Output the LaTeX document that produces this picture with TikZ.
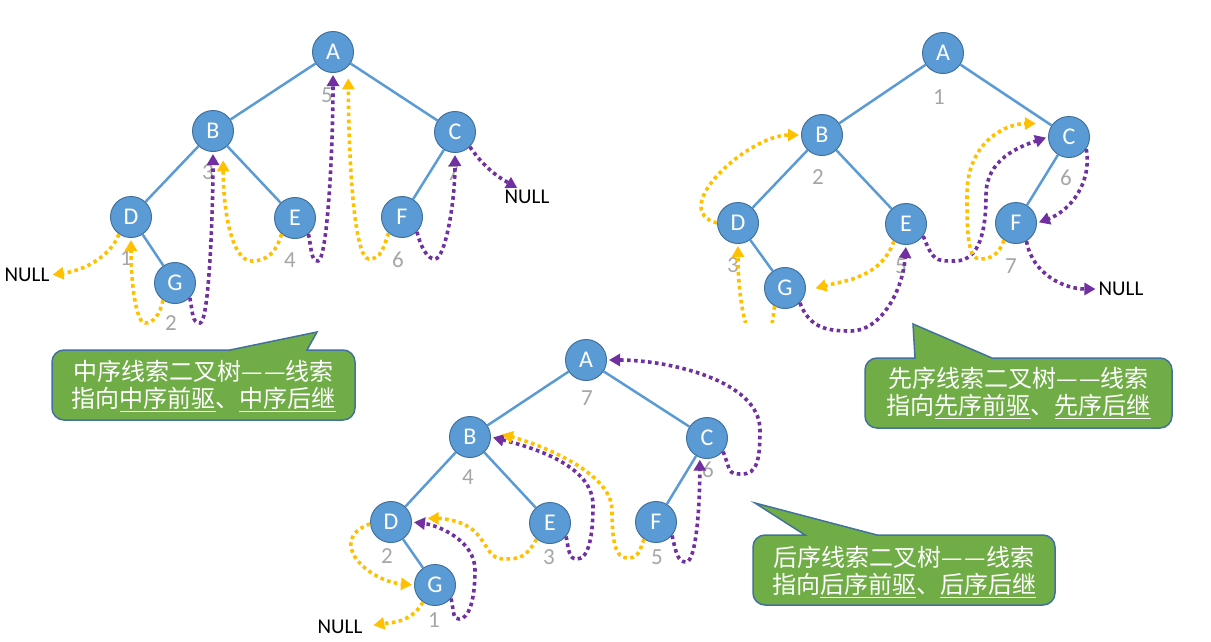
\documentclass[tikz,border=0pt]{standalone}
\usepackage{fontspec}
\setmainfont{Carlito}
\newfontfamily\cjk{Noto Sans CJK SC}
\usetikzlibrary{arrows.meta,positioning}
\definecolor{nodeblue}{RGB}{91,155,213}
\definecolor{nodeedge}{RGB}{65,113,156}
\definecolor{threadyellow}{RGB}{255,192,0}
\definecolor{threadpurple}{RGB}{112,48,160}
\definecolor{notegreen}{RGB}{112,173,71}
\definecolor{numgray}{RGB}{166,166,166}
\newcommand\undl[1]{\setbox0\hbox{#1}\rlap{\rule[-5pt]{\wd0}{1.6pt}}\box0}
\tikzstyle{vert}=[circle,draw=nodeedge,line width=1pt,fill=nodeblue,inner sep=0,minimum size=41pt,text=white,font=\fontsize{24}{24}\selectfont]
\tikzstyle{edge}=[draw=nodeblue,line width=2.5pt]
\tikzstyle{ord}=[text=numgray,font=\fontsize{23}{23}\selectfont]
\tikzstyle{nul}=[inner sep=1pt,font=\fontsize{21}{21}\selectfont]
\tikzstyle{thread}=[>={Triangle[length=11pt,width=12pt]},->,shorten >=2pt,line width=3.6pt,dash pattern=on 3.6pt off 3.4pt]
\tikzstyle{pre}=[thread,draw=threadyellow]
\tikzstyle{suc}=[thread,draw=threadpurple]
\tikzstyle{note}=[fill=notegreen,draw=nodeedge,line width=1.5pt]
\tikzstyle{notetext}=[text=white,align=center,font=\cjk\fontsize{24}{27}\selectfont]

\begin{document}
\begin{tikzpicture}[x=1pt,y=1pt]
    \useasboundingbox (0,0) rectangle (1211,-641);

    % in-order tree
    \node [vert] (a1) at (333,-52) {A};
    \node [vert] (b1) at (213,-131) {B};
    \node [vert] (c1) at (455,-132) {C};
    \node [vert] (d1) at (131,-217) {D};
    \node [vert] (e1) at (295,-218) {E};
    \node [vert] (f1) at (402,-217) {F};
    \node [vert] (g1) at (175,-283) {G};

    % pre-order tree
    \node [vert] (a2) at (943,-53) {A};
    \node [vert] (b2) at (822,-135) {B};
    \node [vert] (c2) at (1069,-137) {C};
    \node [vert] (d2) at (738,-223) {D};
    \node [vert] (e2) at (906,-224) {E};
    \node [vert] (f2) at (1016,-223) {F};
    \node [vert] (g2) at (785,-288) {G};

    % post-order tree
    \node [vert] (a3) at (586,-360) {A};
    \node [vert] (b3) at (470,-437) {B};
    \node [vert] (c3) at (707,-438) {C};
    \node [vert] (d3) at (391,-522) {D};
    \node [vert] (e3) at (550,-523) {E};
    \node [vert] (f3) at (656,-522) {F};
    \node [vert] (g3) at (435,-585) {G};

    % tree edges
    \foreach \u/\v in {a/b,a/c,b/d,b/e,c/f,d/g} {
      \foreach \t in {1,2,3} {
        \draw [edge] (\u\t) -- (\v\t);
      }
    }

    % visiting order
    \node [ord] (oa1) at (327,-95) {5};
    \node [ord] (ob1) at (208,-172) {3};
    \node [ord] (oc1) at (453,-173) {7};
    \node [ord] (od1) at (126,-258) {1};
    \node [ord] (oe1) at (290,-260) {4};
    \node [ord] (of1) at (398,-260) {6};
    \node [ord] (og1) at (171,-323) {2};

    \node [ord] (oa2) at (939,-97) {1};
    \node [ord] (ob2) at (818,-177) {2};
    \node [ord] (oc2) at (1066,-178) {6};
    \node [ord] (od2) at (733,-265) {3};
    \node [ord] (oe2) at (901,-266) {5};
    \node [ord] (of2) at (1011,-266) {7};

    \node [ord] (oa3) at (587,-398) {7};
    \node [ord] (ob3) at (468,-477) {4};
    \node [ord] (oc3) at (708,-470) {6};
    \node [ord] (od3) at (387,-556) {2};
    \node [ord] (oe3) at (549,-557) {3};
    \node [ord] (of3) at (657,-557) {5};
    \node [ord] (og3) at (434,-620) {1};

    \node [nul] (null1) at (27,-275) {NULL};
    \node [nul] (null2) at (527,-197) {NULL};
    \node [nul] (null3) at (1121,-289) {NULL};
    \node [nul] (null4) at (340,-627) {NULL};

    % in-order threads
    \draw [pre] (d1.235) .. controls +(-10,-25) and +(30,4) .. (null1.east);
    \draw [pre] (g1.235) .. controls +(-3,-15) and +(8,0) .. (145,-323) .. controls +(-9,0) and +(0,-45) .. (d1.south);
    \draw [suc] (g1.-45) .. controls +(3,-15) and +(-8,0) .. (200,-323) .. controls +(9,0) and +(0,-60) .. (b1.south);
    \draw [pre,shorten >=11pt] (e1.230) .. controls +(-5,-18) and +(15,0) .. (252,-261) .. controls +(-22,0) and +(0,-55) .. (b1.-61);
    \draw [suc] (e1.-50) .. controls +(3,-15) and +(-7,0) .. (318,-261) .. controls +(9,0) and +(0,-80) .. (a1.south);
    \draw [pre,shorten >=12pt] (f1.230) .. controls +(-5,-15) and +(12,0) .. (369,-259) .. controls +(-16,0) and +(0,-80) .. (a1.-43);
    \draw [suc] (f1.-45) .. controls +(4,-15) and +(-8,0) .. (435,-259) .. controls +(10,0) and +(0,-50) .. (c1.south);
    \draw [suc] (c1.-45) to[out=-55,in=150] (null2.135);

    % pre-order threads
    \draw [pre] (d2.west) to[out=165,in=180,looseness=1.1] (b2.west);
    \begin{scope}
      \clip (680,-200) rectangle (800,-322);
      \draw [pre] (g2.240) .. controls +(-3,-30) and +(10,0) .. (757,-340) .. controls +(-12,0) and +(0,-50) .. (d2.south);
    \end{scope}
    \draw [pre,shorten >=10pt] (e2.235) to[out=250,in=15] (g2.-8);
    \draw [suc] (g2.-45) .. controls +(10,-25) and +(-25,0) .. (851,-331) .. controls +(30,0) and +(-3,-45) .. (e2.south);
    \draw [suc] (e2.-35) .. controls +(10,-25) and +(-20,0) .. (955,-261) .. controls +(25,0) and +(0,-35) .. (986,-195) .. controls +(0,35) and +(-30,-10) .. (c2.west);
    \draw [pre,shorten >=17pt] (f2.235) .. controls +(-5,-15) and +(10,0) .. (980,-259) .. controls +(-12,0) and +(0,-40) .. (967,-195) .. controls +(0,55) and +(-45,0) .. (c2.140);
    \draw [suc] (c2.-35) to[out=-80,in=20] (f2.east);
    \draw [suc] (f2.-60) to[out=-80,in=180] (null3.west);

    % post-order threads
    \draw [pre,shorten >=10pt] (g3.235) to[out=240,in=10] (null4.east);
    \draw [pre] (d3.185) to[out=200,in=175,looseness=1.6] (g3.west);
    \draw [suc] (g3.-40) .. controls +(3,-15) and +(-6,0) .. (459,-619) .. controls +(10,0) and +(0,-30) .. (475,-570) .. controls +(0,30) and +(25,-3) .. (d3.east);
    \draw [pre,shorten >=16pt] (e3.230) .. controls +(-10,-18) and +(15,0) .. (505,-559) .. controls +(-15,0) and +(12,-15) .. (478,-535) .. controls +(-12,15) and +(30,0) .. (d3.10);
    \draw [suc] (e3.-40) .. controls +(3,-15) and +(-8,0) .. (577,-559) .. controls +(12,0) and +(0,-30) .. (593,-505) .. controls +(0,40) and +(40,-10) .. (b3.east);
    \draw [pre,shorten >=12pt] (f3.235) .. controls +(-5,-15) and +(10,0) .. (627,-558) .. controls +(-12,0) and +(0,-30) .. (612,-510) .. controls +(0,40) and +(40,-10) .. (b3.15);
    \draw [suc] (f3.-40) .. controls +(4,-18) and +(-8,0) .. (686,-562) .. controls +(10,0) and +(0,-50) .. (c3.250);
    \draw [suc] (c3.-40) .. controls +(8,-20) and +(-15,0) .. (742,-474) .. controls +(15,0) and +(0,-30) .. (760,-430) .. controls +(0,50) and +(60,0) .. (a3.east);

    % callouts
    \draw [note] (52,-385) [rounded corners=12pt] -- (52,-350) [sharp corners] -- (230,-350) -- (317,-332) -- (307,-350) [rounded corners=12pt] -- (355,-350) -- (355,-420) -- (52,-420) -- cycle;
    \node [notetext] (t1) at (203.5,-386) {中序线索二叉树—\kern2pt—线索\\指向\undl{中序前驱}、\undl{中序后继}};

    \draw [note] (865,-393) [rounded corners=12pt] -- (865,-358) [sharp corners] -- (915,-358) -- (913,-324) -- (992,-358) [rounded corners=12pt] -- (1172,-358) -- (1172,-428) -- (865,-428) -- cycle;
    \node [notetext] (t2) at (1018.5,-393) {先序线索二叉树—\kern2pt—线索\\指向\undl{先序前驱}、\undl{先序后继}};

    \draw [note] (753,-570) [rounded corners=12pt] -- (753,-535) [sharp corners] -- (805,-535) -- (755,-503) -- (877,-535) [rounded corners=12pt] -- (1055,-535) -- (1055,-605) -- (753,-605) -- cycle;
    \node [notetext] (t3) at (904,-572) {后序线索二叉树—\kern2pt—线索\\指向\undl{后序前驱}、\undl{后序后继}};
\end{tikzpicture}
\end{document}
